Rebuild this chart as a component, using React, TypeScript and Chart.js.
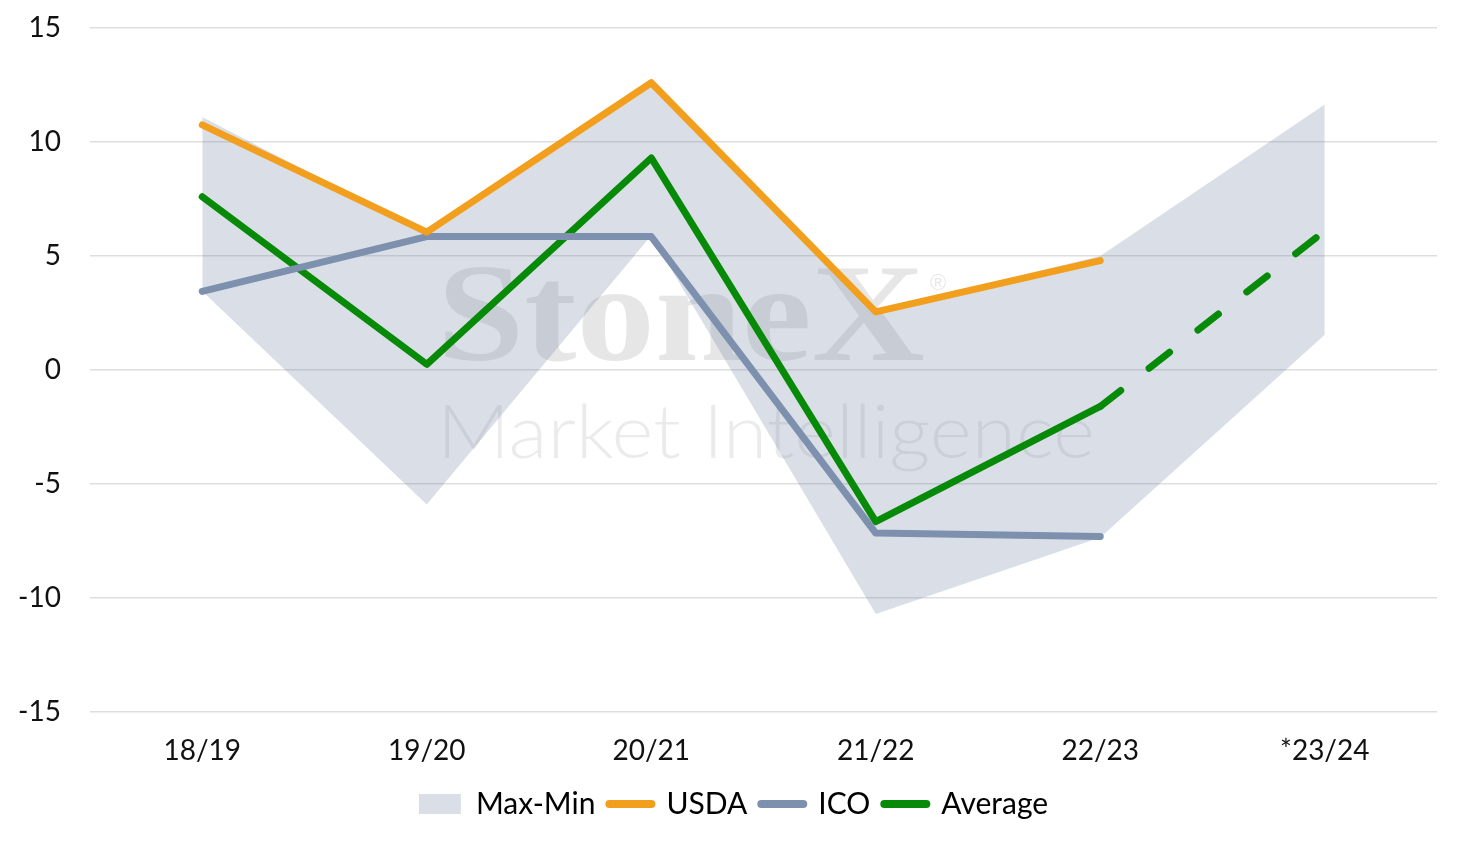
import { useEffect, useRef } from 'react'
import { Chart, registerables } from 'chart.js'

Chart.register(...registerables)

const seasons = ['18/19', '19/20', '20/21', '21/22', '22/23', '*23/24']
const bandMax = [11.1, 6.0, 12.6, 2.6, 5.0, 11.65]
const bandMin = [3.45, -5.9, 5.9, -10.7, -7.35, 1.55]
const usda = [10.75, 6.05, 12.6, 2.55, 4.8, null]
const ico = [3.45, 5.85, 5.85, -7.15, -7.3, null]
const average = [7.6, 0.25, 9.3, -6.65, -1.6, 6.1]
const yTicks = [-15, -10, -5, 0, 5, 10, 15]

const FONT = 'Lato, "Noto Sans", sans-serif'
const bandFill = 'rgba(113, 132, 163, 0.26)'
const bandLegend = '#dadfe7'
const orange = '#f39f1e'
const slate = '#7d90ae'
const green = '#078a07'

// faint StoneX logo behind the series
const watermark = {
  id: 'watermark',
  beforeDatasetsDraw(chart: Chart) {
    const { ctx, chartArea } = chart
    const left = chartArea.left + 347
    const top = chartArea.top
    ctx.save()
    ctx.fillStyle = 'rgba(30, 30, 30, 0.11)'
    ctx.textBaseline = 'alphabetic'
    ctx.textAlign = 'left'

    ctx.font = 'bold 140px "Liberation Serif", serif'
    const w1 = ctx.measureText('StoneX').width
    ctx.save()
    ctx.translate(left, top + 332)
    ctx.scale(488 / w1, 1)
    ctx.fillText('StoneX', 0, 0)
    ctx.restore()

    ctx.font = '22px "Liberation Sans", sans-serif'
    ctx.fillText('®', left + 493, top + 262)

    ctx.fillStyle = 'rgba(30, 30, 30, 0.09)'
    ctx.font = '300 75px Lato, sans-serif'
    const w2 = ctx.measureText('Market Intelligence').width
    ctx.translate(left, top + 430)
    ctx.scale(658 / w2, 1)
    ctx.fillText('Market Intelligence', 0, 0)
    ctx.restore()
  },
}

// nudge the centred legend to where the original sits
const legendShift = {
  id: 'legendShift',
  afterLayout(chart: any) {
    if (chart.legend) {
      chart.legend.left += 15
      chart.legend.right += 15
    }
  },
}

export default function App() {
  const canvasRef = useRef<HTMLCanvasElement>(null)
  const chartRef = useRef<Chart | null>(null)

  useEffect(() => {
    if (!canvasRef.current) return
    const ctx = canvasRef.current.getContext('2d')
    if (!ctx) return
    chartRef.current?.destroy()

    const lineStyle = {
      borderWidth: 7,
      pointRadius: 0,
      pointHoverRadius: 0,
      borderCapStyle: 'round' as const,
      borderJoinStyle: 'round' as const,
      tension: 0,
      fill: false,
      order: 1,
    }

    chartRef.current = new Chart(ctx, {
      type: 'line',
      data: {
        labels: seasons,
        datasets: [
          {
            label: 'Max',
            data: bandMax,
            borderWidth: 0,
            pointRadius: 0,
            backgroundColor: bandFill,
            fill: '+1',
            order: 10,
          },
          {
            label: 'Min',
            data: bandMin,
            borderWidth: 0,
            pointRadius: 0,
            backgroundColor: bandFill,
            fill: false,
            order: 10,
          },
          { label: 'USDA', data: usda, borderColor: orange, backgroundColor: orange, ...lineStyle },
          { label: 'ICO', data: ico, borderColor: slate, backgroundColor: slate, ...lineStyle },
          {
            label: 'Average',
            data: average,
            borderColor: green,
            backgroundColor: green,
            ...lineStyle,
            segment: {
              borderDash: (c: any) => (c.p0DataIndex === 4 ? [26, 36] : undefined),
            },
          },
        ],
      },
      options: {
        responsive: true,
        maintainAspectRatio: false,
        animation: false,
        layout: { padding: { top: 28, right: 23, bottom: 13, left: 0 } },
        scales: {
          x: {
            offset: true,
            grid: { display: false },
            border: { display: false },
            ticks: { color: '#111', font: { family: FONT, size: 28 }, padding: 14 },
            afterFit: (s: any) => {
              s.height = 63
            },
          },
          y: {
            min: -15,
            max: 15,
            afterBuildTicks: (s: any) => {
              s.ticks = yTicks.map((v) => ({ value: v }))
            },
            grid: { color: '#dedede', lineWidth: 1.5, drawTicks: false },
            border: { display: false },
            ticks: { color: '#111', font: { family: FONT, size: 28 }, padding: 29 },
            afterFit: (s: any) => {
              s.width = 90
              s.paddingTop = 0
              s.paddingBottom = 0
            },
          },
        },
        plugins: {
          tooltip: { enabled: false },
          legend: {
            position: 'bottom',
            labels: {
              usePointStyle: true,
              pointStyleWidth: 42,
              boxHeight: 20,
              padding: 14,
              color: '#111',
              font: { family: FONT, size: 30 },
              generateLabels: () => [
                { text: 'Max-Min', fillStyle: bandLegend, strokeStyle: bandLegend, lineWidth: 0, pointStyle: 'rect', datasetIndex: 0 },
                { text: 'USDA', fillStyle: orange, strokeStyle: orange, lineWidth: 8, lineCap: 'round', pointStyle: 'line', datasetIndex: 2 },
                { text: 'ICO', fillStyle: slate, strokeStyle: slate, lineWidth: 8, lineCap: 'round', pointStyle: 'line', datasetIndex: 3 },
                { text: 'Average', fillStyle: green, strokeStyle: green, lineWidth: 8, lineCap: 'round', pointStyle: 'line', datasetIndex: 4 },
              ],
            },
          },
        },
      },
      plugins: [watermark, legendShift],
    })

    return () => {
      chartRef.current?.destroy()
      chartRef.current = null
    }
  }, [])

  return (
    <div style={{ position: 'fixed', left: 0, top: 0, width: 1460, height: 842, background: '#fff' }}>
      <canvas ref={canvasRef}></canvas>
    </div>
  )
}
